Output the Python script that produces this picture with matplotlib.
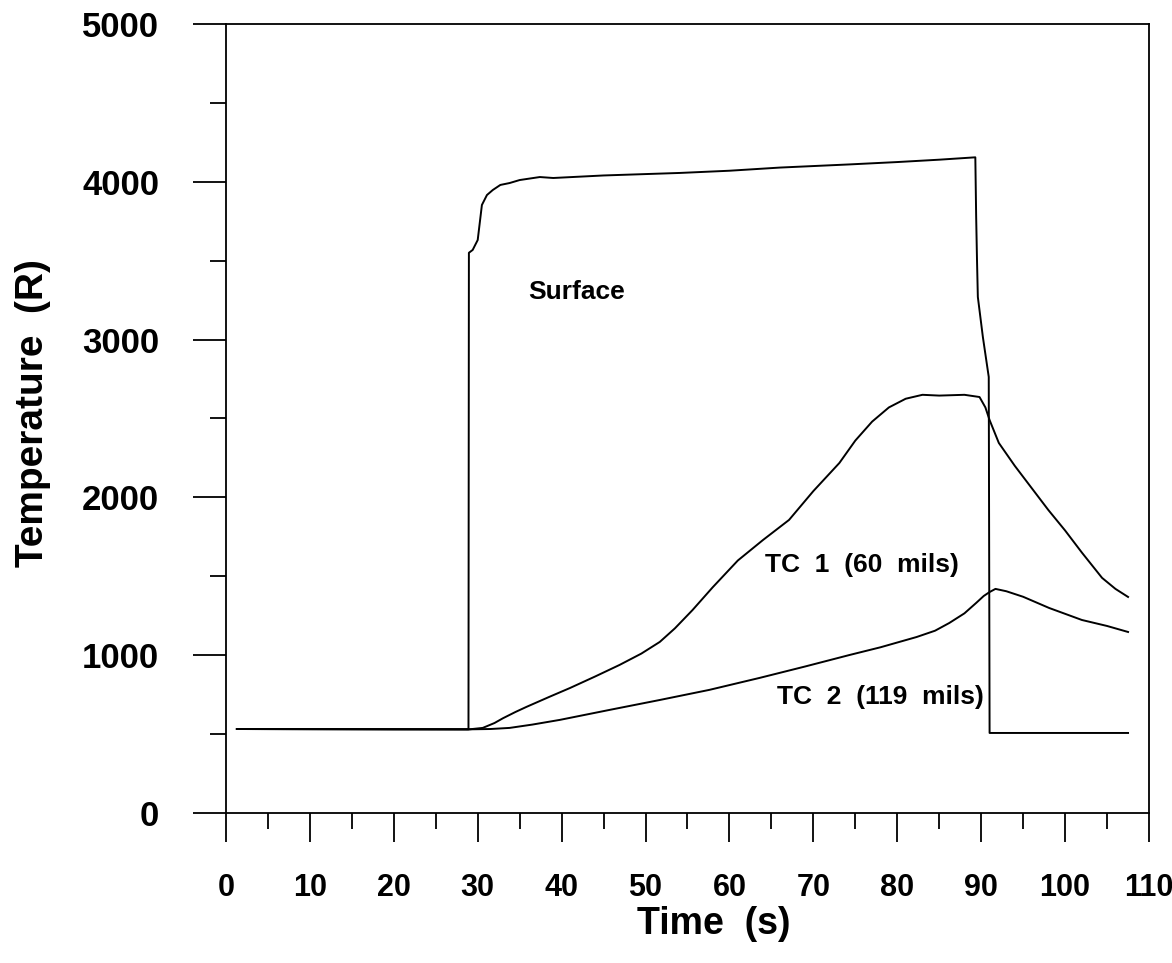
import matplotlib
matplotlib.use("Agg")
import matplotlib.pyplot as plt
from matplotlib.ticker import MultipleLocator

plt.rcParams['font.family'] = ['Liberation Sans', 'DejaVu Sans']
plt.rcParams['font.weight'] = 'bold'

# Surface temperature (R) vs time (s)
surf_t = [1.3, 10, 20, 28.9, 28.95, 29.4, 30.0, 30.5, 31.1, 31.8, 32.7, 33.8, 35.0, 37.4,
          39.0, 45, 54.1, 60, 66, 74.3, 80, 85, 89.3, 89.4, 89.5, 89.6, 90.2, 90.9, 91.0, 100, 107.5]
surf_T = [532, 531, 530, 530, 3550, 3568, 3631, 3853, 3916, 3948, 3980, 3992, 4011, 4030,
          4024, 4040, 4056, 4070, 4090, 4110, 4125, 4140, 4155, 3777, 3504, 3270, 3016, 2763, 507, 507, 507]

# TC 1 (60 mils)
tc1_t = [1.3, 15, 29.0, 30.6, 32.0, 33.0, 34.5, 35.8, 38.5, 41.0, 44.0, 46.9, 49.5, 51.7,
         53.5, 55.6, 58.0, 61.0, 64.0, 67.1, 70.0, 73.1, 75.0, 77.0, 79.0, 81.0, 83.0,
         85.0, 88.0, 89.8, 90.5, 91.0, 92.1, 94, 96, 98, 100, 102, 104.4, 106, 107.5]
tc1_T = [532, 531, 530, 539, 570, 600, 640, 672, 735, 792, 865, 938, 1010, 1084,
         1170, 1286, 1430, 1600, 1730, 1857, 2040, 2218, 2360, 2480, 2570, 2625, 2650,
         2645, 2650, 2636, 2570, 2490, 2345, 2200, 2060, 1920, 1790, 1650, 1490, 1420, 1369]

# TC 2 (119 mils)
tc2_t = [1.3, 15, 29.0, 31.5, 33.8, 36.5, 39.8, 45.7, 51.7, 57.6, 63.6, 69, 74.3, 78,
         82.3, 84.5, 86.2, 88.0, 89.4, 90.3, 91.0, 91.7, 93.0, 95, 98.1, 102.0, 105, 107.5]
tc2_T = [532, 531, 530, 532, 539, 560, 590, 653, 716, 780, 856, 928, 1001, 1050,
         1115, 1155, 1204, 1265, 1331, 1375, 1400, 1420, 1405, 1370, 1299, 1223, 1185, 1147]

fig = plt.figure(figsize=(11.72, 9.63), dpi=100)
ax = fig.add_axes([0.1928, 0.1558, 0.9804 - 0.1928, 0.9751 - 0.1558])

ax.plot(surf_t, surf_T, color='black', lw=1.4)
ax.plot(tc1_t, tc1_T, color='black', lw=1.4)
ax.plot(tc2_t, tc2_T, color='black', lw=1.4)

ax.text(41.8, 3300, 'Surface', fontsize=19, fontweight='bold', ha='center', va='center')
ax.text(75.8, 1572, 'TC  1  (60  mils)', fontsize=19, fontweight='bold', ha='center', va='center')
ax.text(78.0, 735, 'TC  2  (119  mils)', fontsize=19, fontweight='bold', ha='center', va='center')

ax.set_xlim(0, 110)
ax.set_ylim(0, 5000)
ax.xaxis.set_major_locator(MultipleLocator(10))
ax.xaxis.set_minor_locator(MultipleLocator(5))
ax.yaxis.set_major_locator(MultipleLocator(1000))
ax.yaxis.set_minor_locator(MultipleLocator(500))

ax.tick_params(which='major', direction='out', width=1.3)
ax.tick_params(axis='y', which='major', length=24, labelsize=25, pad=24)
ax.tick_params(axis='x', which='major', length=21, labelsize=22, pad=22)
ax.tick_params(which='minor', direction='out', width=1.3, length=11.5)
for lab in ax.get_xticklabels() + ax.get_yticklabels():
    lab.set_fontweight('bold')

for sp in ax.spines.values():
    sp.set_linewidth(1.3)

ax.set_xlabel('Time  (s)', fontsize=27, fontweight='bold')
ax.xaxis.set_label_coords(0.528, -0.118)
ax.set_ylabel('Temperature  (R)', fontsize=28, fontweight='bold')
ax.yaxis.set_label_coords(-0.19, 0.507)

fig.savefig('out.png', dpi=100)
